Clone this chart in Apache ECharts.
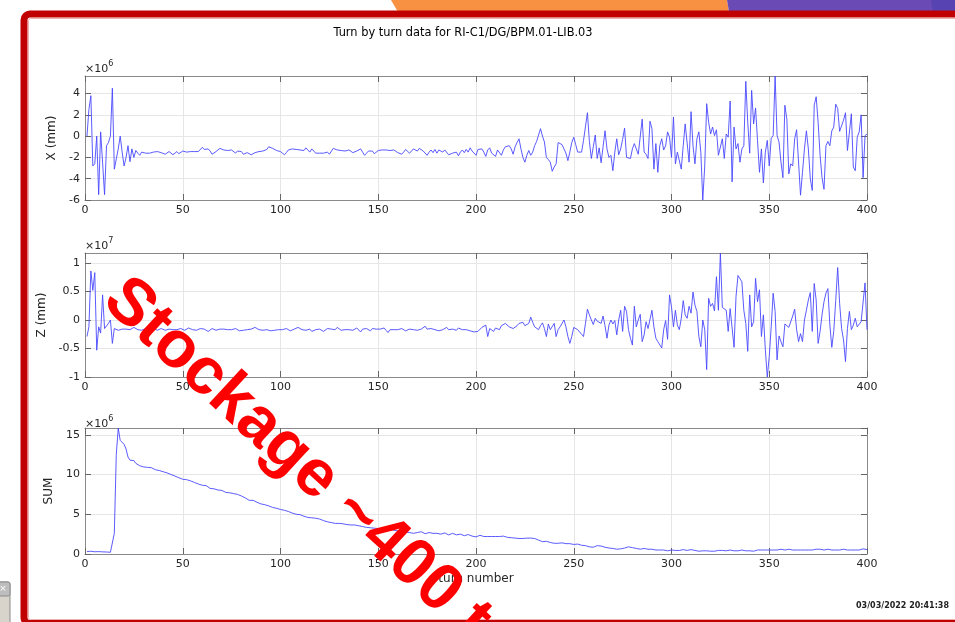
<!DOCTYPE html>
<html>
<head>
<meta charset="utf-8">
<title>Turn by turn data</title>
<script src="https://cdn.jsdelivr.net/npm/echarts@6.0.0/dist/echarts.min.js"></script>
<style>
  html, body { margin: 0; padding: 0; background: #ffffff; }
  #chart { width: 955px; height: 622px; }
</style>
</head>
<body>
<div id="chart"></div>
<script>
// Horizontal position per turn (units of 1e6)
const xPos = [
  0.0, 2.5, 3.8, -2.8, -2.6, 0.0, -5.5, 0.4, -2.5, -5.5,
  -0.9, -0.6, 0.0, 4.5, -3.1, -3.1, -1.2, 0.0, -1.5, -2.8,
  -2.0, -0.9, -2.4, -1.2, -2.0, -1.35, -1.6, -1.8, -1.5, -1.35,
  -1.6, -1.65, -1.6, -1.55, -1.5, -1.6, -1.45, -1.4, -1.55, -1.5,
  -1.7, -1.6, -1.45, -1.6, -1.75, -1.6, -1.45, -1.65, -1.5, -1.4,
  -1.55, -1.5, -1.5, -1.45, -1.5, -1.45, -1.4, -1.45, -1.3, -1.05,
  -1.25, -1.3, -1.2, -1.4, -1.7, -1.6, -1.45, -1.3, -1.15, -1.2,
  -1.3, -1.25, -1.35, -1.4, -1.3, -1.45, -1.6, -1.4, -1.5, -1.45,
  -1.7, -1.8, -1.55, -1.4, -1.75, -1.6, -1.55, -1.5, -1.45, -1.35,
  -1.4, -1.3, -1.25, -1.0, -1.1, -1.15, -1.2, -1.35, -1.3, -1.45,
  -1.6, -1.75, -1.55, -1.3, -1.25, -1.2, -1.35, -1.25, -1.1, -1.3,
  -1.45, -1.35, -1.1, -1.0, -1.5, -1.2, -1.4, -1.6, -1.5, -1.6,
  -1.75, -1.6, -1.45, -1.5, -1.7, -1.55, -1.15, -1.0, -1.3, -1.45,
  -1.35, -1.2, -1.4, -1.5, -1.3, -1.35, -1.55, -1.55, -1.4, -1.25,
  -1.2, -1.5, -1.8, -1.6, -1.4, -1.5, -1.4, -1.65, -1.55, -1.35,
  -1.45, -1.3, -1.25, -1.3, -1.3, -1.35, -1.35, -1.3, -1.4, -1.55,
  -1.4, -1.7, -1.5, -1.25, -1.35, -1.6, -1.4, -1.2, -1.05, -1.4,
  -1.15, -1.0, -1.4, -1.45, -1.8, -1.5, -1.3, -1.55, -1.25, -1.6,
  -1.3, -1.2, -1.5, -1.3, -1.45, -1.75, -1.8, -1.6, -1.7, -1.5,
  -1.85, -1.5, -1.3, -1.55, -1.25, -1.5, -1.1, -1.4, -1.35, -1.8,
  -1.25, -1.1, -1.2, -1.5, -1.9, -1.3, -1.1, -1.6, -1.45, -1.9,
  -1.3, -1.2, -1.8, -1.3, -1.0, -0.95, -0.9, -1.2, -1.7, -1.0,
  -0.6, -0.25, -1.2, -2.0, -2.45, -1.8, -1.35, -1.8, -1.5, -0.9,
  -0.5, 0.1, 0.7, 0.0, -0.55, -2.0, -2.2, -2.45, -3.3, -2.9,
  -2.6, -0.6, -0.7, -0.8, -0.9, -1.6, -2.3, -1.5, -0.6, -0.1,
  -0.8, -1.5, -1.5, -1.5, -0.4, -0.3, 2.2, -0.5, -2.1, -1.0,
  0.1, -2.1, -1.1, -2.5, -1.0, 0.5, -1.2, -2.0, -1.8, -3.25,
  -1.5, -0.25, -1.75, -1.2, -0.3, 0.75, -2.0, -2.0, -2.1, -1.2,
  -0.7, -1.2, -1.7, -1.7, 1.6, -1.5, -1.7, -2.1, 1.4, 0.7,
  -3.1, -0.7, -3.4, -0.9, -0.25, -1.3, -0.9, 0.4, -0.1, -2.0,
  1.8, -2.6, -1.5, -1.45, -3.1, -0.9, 1.15, 1.0, -2.45, 2.3,
  -0.9, -2.6, -0.25, 0.4, -1.5, -6.0, -2.8, 3.05, 1.3, 0.2,
  0.85, 0.05, 0.6, -1.8, -1.8, -0.25, -2.1, 0.2, -0.1, 3.3,
  -4.3, 0.85, -1.2, -0.7, -2.45, -1.2, -0.9, 5.15, 1.3, -1.6,
  4.3, 1.15, 2.65, -0.4, -3.4, -1.2, -4.4, -1.5, -0.4, -2.8,
  -0.2, 0.05, 5.65, 0.05, -0.55, -2.45, -3.9, 2.9, 1.6, -3.55,
  -2.6, -2.8, -0.25, 0.6, 0.5, -5.55, -3.4, -1.2, 0.5, -1.2,
  -4.0, -5.1, 2.9, 3.7, 1.3, -1.8, -3.9, -5.0, -0.9, -0.5,
  -0.9, 0.5, 0.85, 3.0, 2.6, 0.45, 0.45, 1.5, 2.2, -1.35,
  -1.5, 2.1, -2.9, -3.25, -0.1, 0.4, 2.0, -3.9, 0.05, 0.2
];

// Vertical position per turn (units of 1e7)
const zPos = [
  -0.29, -0.12, 0.86, 0.52, 0.83, -0.53, -0.12, -0.23, 0.44, -0.15,
  -0.15, -0.06, 0.0, -0.41, -0.15, -0.15, -0.18, -0.17, -0.16, -0.17,
  -0.16, -0.15, -0.17, -0.14, -0.13, -0.15, -0.17, -0.16, -0.18, -0.16,
  -0.15, -0.17, -0.19, -0.17, -0.15, -0.16, -0.18, -0.17, -0.15, -0.16,
  -0.18, -0.17, -0.16, -0.15, -0.17, -0.19, -0.17, -0.16, -0.15, -0.17,
  -0.18, -0.16, -0.14, -0.15, -0.17, -0.16, -0.18, -0.17, -0.15, -0.14,
  -0.16, -0.18, -0.2, -0.17, -0.15, -0.16, -0.18, -0.17, -0.16, -0.18,
  -0.16, -0.15, -0.17, -0.19, -0.17, -0.16, -0.15, -0.17, -0.19, -0.2,
  -0.18, -0.16, -0.17, -0.19, -0.16, -0.14, -0.13, -0.15, -0.17, -0.19,
  -0.18, -0.16, -0.17, -0.15, -0.19, -0.21, -0.18, -0.16, -0.17, -0.18,
  -0.17, -0.16, -0.15, -0.17, -0.19, -0.18, -0.16, -0.14, -0.13, -0.15,
  -0.17, -0.19, -0.18, -0.17, -0.16, -0.2, -0.19, -0.17, -0.15, -0.16,
  -0.18, -0.2, -0.18, -0.15, -0.13, -0.16, -0.19, -0.17, -0.13, -0.16,
  -0.18, -0.15, -0.17, -0.16, -0.17, -0.15, -0.18, -0.17, -0.14, -0.17,
  -0.21, -0.16, -0.14, -0.15, -0.18, -0.19, -0.15, -0.14, -0.16, -0.18,
  -0.16, -0.17, -0.14, -0.18, -0.22, -0.17, -0.16, -0.17, -0.19, -0.17,
  -0.16, -0.15, -0.18, -0.19, -0.17, -0.16, -0.18, -0.17, -0.16, -0.18,
  -0.17, -0.16, -0.15, -0.11, -0.16, -0.17, -0.15, -0.16, -0.17, -0.14,
  -0.19, -0.22, -0.17, -0.15, -0.13, -0.17, -0.18, -0.16, -0.17, -0.18,
  -0.14, -0.13, -0.17, -0.19, -0.17, -0.18, -0.19, -0.2, -0.21, -0.2,
  -0.2, -0.17, -0.13, -0.15, -0.09, -0.29, -0.15, -0.12, -0.2, -0.14,
  -0.12, -0.17, -0.1, -0.12, -0.06, -0.08, -0.12, -0.1, -0.15, -0.17,
  -0.1, -0.06, -0.09, -0.04, -0.1, -0.12, -0.06, 0.05, -0.04, -0.12,
  -0.14, -0.17, -0.1, -0.05, -0.15, -0.29, -0.07, -0.17, -0.17, -0.06,
  -0.29, -0.17, -0.12, -0.06, 0.0, -0.12, -0.29, -0.41, -0.29, -0.13,
  -0.15, -0.17, -0.2, -0.25, -0.29, -0.06, 0.19, 0.09, 0.0, -0.08,
  0.03, -0.02, 0.01, -0.06, 0.07, -0.1, -0.32, -0.09, 0.0, -0.07,
  -0.01, -0.26, 0.0, 0.17, -0.2, 0.24, 0.15, -0.17, -0.32, -0.44,
  0.24, -0.12, 0.0, 0.1, -0.38, -0.26, -0.03, -0.15, -0.15, 0.17,
  -0.12, -0.32, -0.38, -0.41, -0.49, -0.17, -0.01, -0.34, 0.44, 0.23,
  -0.12, 0.17, -0.09, -0.17, 0.03, 0.34, 0.09, 0.03, 0.24, 0.12,
  0.49, 0.26, 0.15, -0.29, -0.47, 0.0, -0.17, -0.87, 0.38, 0.24,
  0.29, 0.16, 0.76, 0.17, 1.175, 0.22, 0.19, 0.17, -0.2, 0.2,
  0.22, -0.48, 0.41, 0.78, 0.8, 0.67, 0.17, -0.06, -0.55, 0.44,
  -0.12, -0.03, 0.73, 0.32, 0.53, -0.29, 0.09, -0.52, -1.0, -0.64,
  -0.12, 0.47, 0.15, -0.7, -0.28, -0.38, -0.47, -0.07, -0.07, -0.13,
  -0.12, 0.07, 0.19, -0.17, -0.38, -0.24, -0.38, 0.0, 0.17, 0.35,
  0.48, -0.2, 0.64, 0.35, -0.41, -0.2, 0.09, 0.32, 0.47, 0.55,
  -0.09, -0.48, -0.2, 0.34, 0.92, 0.29, -0.15, -0.35, -0.73, -0.15,
  0.15, -0.17, -0.09, 0.03, -0.12, -0.1, -0.03, -0.06, 0.65, -0.17
];

// Sum signal per turn (units of 1e6)
const sumSig = [
  0.3, 0.25, 0.35, 0.3, 0.28, 0.22, 0.3, 0.25, 0.27, 0.22,
  0.25, 0.24, 0.22, 0.3, 2.6, 12.5, 15.85, 14.3, 14.2, 13.8,
  13.2, 12.2, 11.8, 11.7, 11.75, 11.4, 11.2, 11.1, 11.0, 10.95,
  10.8, 10.9, 10.75, 10.85, 10.7, 10.6, 10.4, 10.5, 10.45, 10.35,
  10.3, 10.2, 10.15, 10.0, 9.9, 9.8, 9.75, 9.6, 9.5, 9.4,
  9.35, 9.35, 9.3, 9.2, 9.1, 9.0, 8.9, 8.8, 8.75, 8.65,
  8.6, 8.6, 8.45, 8.25, 8.2, 8.2, 8.1, 8.05, 7.95, 8.0,
  7.9, 7.75, 7.7, 7.7, 7.65, 7.6, 7.6, 7.5, 7.45, 7.3,
  7.2, 7.05, 6.9, 6.75, 6.7, 6.75, 6.6, 6.5, 6.4, 6.3,
  6.25, 6.2, 6.1, 6.05, 5.9, 5.85, 5.8, 5.75, 5.7, 5.6,
  5.6, 5.5, 5.45, 5.35, 5.25, 5.15, 5.05, 5.0, 5.0, 4.95,
  4.85, 4.75, 4.65, 4.6, 4.55, 4.55, 4.5, 4.5, 4.45, 4.4,
  4.3, 4.2, 4.1, 4.05, 4.0, 3.95, 3.9, 3.85, 3.85, 3.85,
  3.85, 3.8, 3.75, 3.7, 3.7, 3.65, 3.7, 3.65, 3.6, 3.55,
  3.5, 3.45, 3.4, 3.35, 3.35, 3.3, 3.25, 3.25, 3.2, 3.2,
  3.1, 3.15, 3.05, 2.95, 3.0, 3.1, 3.2, 3.0, 2.95, 2.9,
  2.95, 2.85, 2.7, 2.75, 2.65, 2.7, 2.8, 2.6, 2.55, 2.7,
  2.75, 2.8, 2.6, 2.55, 2.65, 2.7, 2.5, 2.6, 2.7, 2.6,
  2.55, 2.5, 2.6, 2.65, 2.5, 2.4, 2.5, 2.6, 2.55, 2.4,
  2.45, 2.5, 2.4, 2.3, 2.35, 2.45, 2.3, 2.25, 2.3, 2.15,
  2.3, 2.35, 2.25, 2.2, 2.25, 2.2, 2.25, 2.2, 2.3, 2.2,
  2.15, 2.2, 2.1, 2.25, 2.2, 2.1, 2.0, 2.05, 2.05, 2.0,
  2.05, 1.95, 2.0, 1.95, 2.05, 2.0, 1.95, 2.0, 1.9, 1.95,
  1.85, 1.75, 1.6, 1.55, 1.5, 1.6, 1.55, 1.45, 1.4, 1.35,
  1.4, 1.35, 1.45, 1.4, 1.3, 1.3, 1.25, 1.3, 1.25, 1.2,
  1.2, 1.25, 1.15, 1.1, 1.05, 1.05, 0.95, 0.9, 0.95, 0.85,
  0.9, 1.05, 1.1, 1.0, 0.9, 0.85, 0.8, 0.75, 0.7, 0.7,
  0.65, 0.6, 0.6, 0.65, 0.7, 0.75, 0.8, 0.9, 0.85, 0.8,
  0.75, 0.7, 0.65, 0.6, 0.65, 0.7, 0.65, 0.6, 0.55, 0.6,
  0.55, 0.5, 0.55, 0.5, 0.45, 0.5, 0.45, 0.4, 0.35, 0.5,
  0.4, 0.45, 0.5, 0.45, 0.5, 0.55, 0.5, 0.45, 0.5, 0.55,
  0.5, 0.45, 0.4, 0.35, 0.35, 0.4, 0.35, 0.4, 0.4, 0.35,
  0.4, 0.35, 0.4, 0.45, 0.4, 0.45, 0.5, 0.4, 0.45, 0.5,
  0.45, 0.4, 0.35, 0.4, 0.45, 0.5, 0.45, 0.4, 0.35, 0.4,
  0.3, 0.35, 0.45, 0.5, 0.55, 0.5, 0.45, 0.5, 0.55, 0.5,
  0.55, 0.5, 0.45, 0.5, 0.55, 0.6, 0.55, 0.5, 0.55, 0.6,
  0.55, 0.5, 0.45, 0.5, 0.55, 0.5, 0.45, 0.5, 0.55, 0.5,
  0.45, 0.5, 0.55, 0.6, 0.65, 0.6, 0.55, 0.5, 0.55, 0.6,
  0.55, 0.5, 0.45, 0.5, 0.55, 0.5, 0.55, 0.6, 0.55, 0.5,
  0.45, 0.5, 0.55, 0.5, 0.6, 0.5, 0.55, 0.65, 0.5, 0.55
];

// Turn numbers 1..N (one per sample)
const turns = xPos.map((_, i) => i + 1);

// Axis settings for the three panels
const panelNames = ['X (mm)', 'Z (mm)', 'SUM'];
const panelMin = [-6, -1, 0];
const panelMax = [5.65, 1.175, 15.85];
const panelStep = [2, 0.5, 5];
const panelExp = ['6', '7', '6'];
const xTicks = [0, 400, 50];
const titleText = 'Turn by turn data for RI-C1/DG/BPM.01-LIB.03';
const xLabel = 'turn number';
const stamp = '03/03/2022 20:41:38';
const overlayText = 'Stockage ~400 to';

const series = [xPos, zPos, sumSig];

const FONT = '"DejaVu Sans", sans-serif';
const BOX = '#8a8a8a';
const TXT = '#262626';
const GRIDC = '#e6e6e6';
const LINE = '#4848ff';

const gridTop = [76, 253, 428];
const gridH = [124, 124, 126];
const nameGaps = [20, 29, 23];

const grids = [], xAxes = [], yAxes = [], seriesList = [];
for (let i = 0; i < 3; i++) {
  grids.push({ left: 85, right: 88, top: gridTop[i], height: gridH[i], show: false });
  const baseX = {
    type: 'value', gridIndex: i, min: xTicks[0], max: xTicks[1], interval: xTicks[2],
    axisLine: { show: true, onZero: false, lineStyle: { color: BOX, width: 1 } },
    axisTick: { show: true, inside: true, length: 6, lineStyle: { color: '#666' } }
  };
  xAxes.push(Object.assign({}, baseX, {
    position: 'bottom',
    axisLabel: { show: true, fontSize: 11, color: TXT, fontFamily: FONT, margin: 5 },
    splitLine: { show: true, lineStyle: { color: GRIDC, width: 1 } },
    name: i === 2 ? xLabel : '',
    nameLocation: 'middle', nameGap: 19,
    nameTextStyle: { fontSize: 12, color: TXT, fontFamily: FONT }
  }));
  xAxes.push(Object.assign({}, baseX, {
    position: 'top', axisLabel: { show: false }, splitLine: { show: false }
  }));
  const baseY = {
    type: 'value', gridIndex: i, min: panelMin[i], max: panelMax[i], interval: panelStep[i],
    axisLine: { show: true, onZero: false, lineStyle: { color: BOX, width: 1 } },
    axisTick: { show: true, inside: true, length: 6, lineStyle: { color: '#666' } }
  };
  yAxes.push(Object.assign({}, baseY, {
    position: 'left',
    axisLabel: { show: true, fontSize: 11, color: TXT, fontFamily: FONT, margin: 5, showMaxLabel: false },
    splitLine: { show: true, lineStyle: { color: GRIDC, width: 1 } },
    name: panelNames[i], nameLocation: 'middle', nameGap: nameGaps[i], nameRotate: 90,
    nameTextStyle: { fontSize: 12, color: TXT, fontFamily: FONT }
  }));
  yAxes.push(Object.assign({}, baseY, {
    position: 'right', axisLabel: { show: false }, splitLine: { show: false }
  }));
  seriesList.push({
    type: 'line', xAxisIndex: 2 * i, yAxisIndex: 2 * i,
    data: series[i].map((v, k) => [turns[k], v]),
    showSymbol: false, symbol: 'none', silent: true,
    lineStyle: { color: LINE, width: 0.9 }, clip: true, z: 3
  });
}

// Exponent markers above each panel
const expLabels = [67, 244, 422].map((y, i) => ({
  type: 'text', x: 85, y: y, z: 10,
  style: {
    text: '{a|×10}{b|' + panelExp[i] + '}',
    verticalAlign: 'middle',
    rich: {
      a: { fontSize: 11, fill: TXT, fontFamily: FONT, verticalAlign: 'bottom' },
      b: { fontSize: 8, fill: TXT, fontFamily: FONT, verticalAlign: 'top', padding: [0, 0, 7, 0] }
    }
  }
}));

const chart = echarts.init(document.getElementById('chart'), null, { renderer: 'canvas' });
chart.setOption({
  animation: false,
  backgroundColor: '#ffffff',
  grid: grids,
  xAxis: xAxes,
  yAxis: yAxes,
  series: seriesList,
  graphic: [
    // slide decoration along the top edge
    { type: 'polygon', z: 1, shape: { points: [[391, 0], [727, 0], [729, 12], [398, 12]] }, style: { fill: '#f99142' } },
    { type: 'polygon', z: 1, shape: { points: [[727, 0], [955, 0], [955, 12], [729, 12]] }, style: { fill: '#6a4ab4' } },
    { type: 'polygon', z: 1, shape: { points: [[931, 0], [955, 0], [955, 12], [933, 12]] }, style: { fill: '#5744b2' } },
    // slide frame
    { type: 'rect', z: 2, shape: { x: 24, y: 14, width: 960, height: 609.5, r: 6 }, style: { fill: null, stroke: '#c00000', lineWidth: 7 } },
    { type: 'rect', z: 2, shape: { x: 28.5, y: 18.5, width: 951, height: 601, r: 2 }, style: { fill: null, stroke: '#f0b0b0', lineWidth: 1 } },
    // small window tab at the lower left
    { type: 'rect', z: 2, shape: { x: -2, y: 582, width: 12, height: 42, r: 2 }, style: { fill: '#d8d4cc', stroke: '#8c8c8c', lineWidth: 1 } },
    { type: 'rect', z: 2, shape: { x: -2, y: 582, width: 12, height: 14, r: 2 }, style: { fill: '#bdbdbd', stroke: '#8c8c8c', lineWidth: 1 } },
    { type: 'text', z: 3, x: 3, y: 589, style: { text: '×', fontSize: 9, fill: '#ffffff', align: 'center', verticalAlign: 'middle', fontFamily: FONT } },
    // figure title
    { type: 'text', z: 10, x: 463, y: 33, style: { text: titleText, font: '11.4px ' + FONT, fill: '#000000', align: 'center', verticalAlign: 'middle' } },
    ...expLabels,
    // time stamp
    { type: 'text', z: 10, x: 949, y: 606, style: { text: stamp, font: 'bold 8px ' + FONT, fill: '#222222', align: 'right', verticalAlign: 'middle' } },
    // annotation across the panels
    { type: 'text', z: 20, x: 113, y: 290, rotation: -0.745,
      style: { text: overlayText, font: 'bold 66px "Liberation Sans", Arial, sans-serif', fill: '#ff0000', align: 'left', verticalAlign: 'middle' } }
  ]
});
</script>
</body>
</html>
